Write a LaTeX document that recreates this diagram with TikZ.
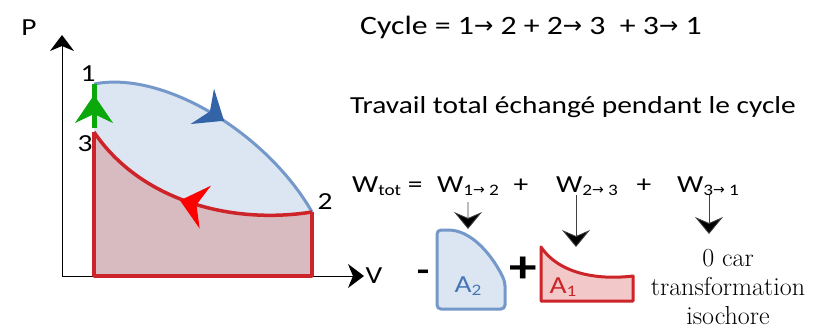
\documentclass[tikz,border=0pt]{standalone}
\usepackage{fontspec}
\setsansfont{Carlito}[FakeStretch=1.2]
\newfontfamily\symfont{DejaVu Sans}
\usetikzlibrary{arrows.meta, positioning, decorations.markings}

\definecolor{bleuligne}{RGB}{116,152,202}
\definecolor{bleufond}{RGB}{220,230,242}
\definecolor{bleufleche}{RGB}{52,100,168}
\definecolor{bleutexte}{RGB}{70,118,182}
\definecolor{rougeligne}{RGB}{204,36,40}
\definecolor{rosefond}{RGB}{216,186,193}
\definecolor{rosesurf}{RGB}{242,200,200}
\definecolor{vertligne}{RGB}{10,168,10}

\newcommand{\fl}{{\symfont\fontsize{23}{26}\selectfont\raisebox{1pt}{→}}}
\newcommand{\fls}{{\symfont\fontsize{14}{16}\selectfont\raisebox{1pt}{→}}}
\newcommand{\sbs}[1]{\raisebox{-3pt}{\fontsize{16}{18}\selectfont #1}}

\begin{document}
\begin{tikzpicture}[x=1pt, y=-1pt,
    txt/.style={font=\sffamily\fontsize{24.5}{28}\selectfont, inner sep=0pt},
    axe/.style={line width=1pt, -{Stealth[length=16pt, width=24pt, inset=5pt]}},
    darr/.style={line width=0.9pt, draw=black!75, -{Stealth[length=17pt, width=28pt, inset=6pt, fill=black]}},
    pointlbl/.style={font=\sffamily\fontsize{24.5}{28}\selectfont, inner sep=0pt},
]
\useasboundingbox (0,0) rectangle (815,333);

% Regions under the curves
\fill[bleufond] (94,84) .. controls (165,70) and (268,135) .. (312,212) -- (312,276) -- (94,276) -- cycle;
\fill[rosefond] (94,132) .. controls (140,200) and (230,225) .. (312,212) -- (312,276) -- (94,276) -- cycle;

% Axes
\coordinate (o) at (62,276);
\coordinate (ptop) at (62,35);
\coordinate (vend) at (364,276);
\draw[axe] (o) -- (ptop);
\draw[axe] (o) -- (vend);
\node[txt] (plbl) at (29,28) {P};
\node[txt] (vlbl) at (374,276) {V};

% Points of the cycle
\coordinate (p1) at (94,84);
\coordinate (p2) at (312,212);
\coordinate (p3) at (94,132);
\coordinate (b2) at (312,276);
\coordinate (b3) at (94,276);

% 1 -> 2
\draw[bleuligne, line width=3pt,
    decoration={markings, mark=at position 0.52 with {\arrow[bleufleche]{Stealth[length=26pt, width=42pt, inset=9pt]}}},
    postaction={decorate}]
    (p1) .. controls (165,70) and (268,135) .. (p2);
% 2 -> 3
\draw[rougeligne, line width=3.5pt,
    decoration={markings, mark=at position 0.56 with {\arrow[red]{Stealth[length=26pt, width=44pt, inset=9pt, reversed]}}},
    postaction={decorate}]
    (p3) .. controls (140,200) and (230,225) .. (p2);
\draw[rougeligne, line width=3.5pt, line join=round] (p2) -- (b2) -- (b3) -- (p3);
% 3 -> 1
\draw[vertligne, line width=5pt] (94,128) -- (p1);
\draw[vertligne, line width=1pt, -{Stealth[length=28pt, width=38pt, inset=9pt]}] (94,123) -- (94,95);

\node[pointlbl] (n1) at (88,74) {1};
\node[pointlbl] (n3) at (85,144) {3};
\node[pointlbl] (n2) at (325,202) {2};

% Texts
\node[txt, anchor=west, font=\sffamily\fontsize{26.5}{30}\selectfont] (cyc) at (360,27)
    {Cycle = 1\fl{} 2 + 2\fl{} 3 \ + 3\fl{} 1};
\node[txt, anchor=west] (trav) at (350,107) {Travail total échangé pendant le cycle};

\node[txt, anchor=west] (wtot) at (352,186) {W\sbs{tot} =};
\node[txt, anchor=west] (w12) at (437,186) {W\sbs{1\fls{} 2}};
\node[txt] (pl1) at (521,186) {+};
\node[txt, anchor=west] (w23) at (556,186) {W\sbs{2\fls{} 3}};
\node[txt] (pl2) at (644,186) {+};
\node[txt, anchor=west] (w31) at (677,186) {W\sbs{3\fls{} 1}};

% Areas
\filldraw[draw=bleuligne, fill=bleufond, line width=3pt, rounded corners=4pt]
    (437,309) -- (437,230) -- (452,230) .. controls (478,236) and (496,262) .. (505,282) -- (505,309) -- cycle;
\node[txt, text=bleutexte] (a2) at (468,286) {A\sbs{2}};
\filldraw[draw=rougeligne, fill=rosesurf, line width=3pt, line join=round]
    (541,301) -- (541,247) .. controls (560,275) and (600,280) .. (633,276) -- (633,301) -- cycle;
\node[txt, text=rougeligne] (a1) at (563,287) {A\sbs{1}};

\node[font=\sffamily\bfseries\fontsize{34}{36}\selectfont, inner sep=0pt] (moins) at (423,276) {-};
\node[font=\sffamily\bfseries\fontsize{46}{48}\selectfont, inner sep=0pt] (plus) at (523,270) {+};

\node[align=center, inner sep=0pt, font=\fontsize{26}{29}\selectfont] (zero) at (728,287)
    {0 car\\transformation\\isochore};

% Arrows to the areas
\coordinate (e12) at (468,229);
\coordinate (e23) at (576,247);
\coordinate (e31) at (709,234);
\draw[darr] (w12.south |- 0,202) -- (e12);
\draw[darr] (e23 |- 0,195) -- (e23);
\draw[darr] (e31 |- 0,195) -- (e31);

\end{tikzpicture}
\end{document}
